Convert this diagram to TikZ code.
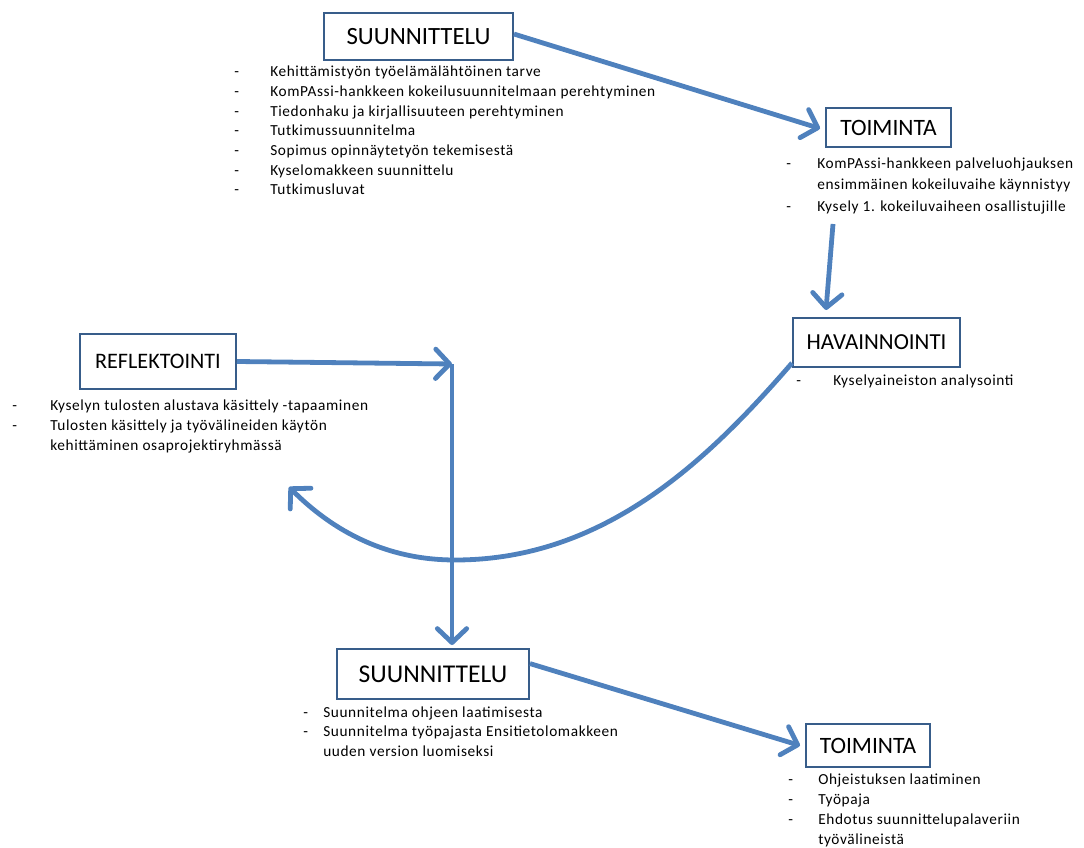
\documentclass[tikz,border=0pt]{standalone}
\usepackage{fontspec}
\setmainfont{Carlito}
\newfontfamily\itemfont[LetterSpace=4]{Carlito}
\usetikzlibrary{arrows.meta,calc}
\definecolor{arrowblue}{HTML}{4F81BD}
\definecolor{boxblue}{HTML}{385D8A}
\begin{document}
\begin{tikzpicture}[x=0.75pt,y=-0.75pt,
  phase/.style={draw=boxblue,line width=1.5pt,fill=white,inner sep=0pt,align=center},
  item/.style={anchor=west,inner sep=0pt,font=\itemfont\fontsize{11.5}{13}\selectfont,text height=7.8pt,text depth=2.3pt},
  arr/.style={draw=arrowblue,line width=3.6pt,-{Straight Barb[length=10.5pt,width=22pt,round]}}]
\useasboundingbox (0,0) rectangle (1084,848);
% phase boxes
\node[phase,minimum width=141.75pt,minimum height=35.25pt,font=\fontsize{18.6}{20}\selectfont] (s1) at (418.5,36.5) {SUUNNITTELU};
\node[phase,minimum width=93.75pt,minimum height=29.25pt,font=\fontsize{17.6}{19}\selectfont] (t1) at (888.5,127.5) {TOIMINTA};
\node[phase,minimum width=125.25pt,minimum height=36.75pt,font=\fontsize{17.2}{18}\selectfont] (h) at (876.5,342.5) {HAVAINNOINTI};
\node[phase,minimum width=117pt,minimum height=41.25pt,font=\fontsize{16.6}{18}\selectfont] (r) at (158,361.5) {REFLEKTOINTI};
\node[phase,minimum width=144pt,minimum height=37.5pt,font=\fontsize{19.2}{20}\selectfont] (s2) at (433,674) {SUUNNITTELU};
\node[phase,minimum width=93pt,minimum height=32.25pt,font=\fontsize{17.6}{19}\selectfont] (t2) at (868,745.5) {TOIMINTA};
% list: suunnittelu 1
\foreach \t [count=\i] in {Kehittämistyön työelämälähtöinen tarve,KomPAssi-hankkeen kokeilusuunnitelmaan perehtyminen,Tiedonhaku ja kirjallisuuteen perehtyminen,Tutkimussuunnitelma,Sopimus opinnäytetyön tekemisestä,Kyselomakkeen suunnittelu,Tutkimusluvat}{
  \node[item] (s1d\i) at (234,{73+(\i-1)*19.7}) {-};
  \node[item] (s1l\i) at (270,{73+(\i-1)*19.7}) {\t};
}
% list: toiminta 1
\node[item] (t1d1) at (786,165) {-};
\node[item] (t1l1) at (817,165) {KomPAssi-hankkeen palveluohjauksen};
\node[item] (t1l1b) at (817,186) {ensimmäinen kokeiluvaihe käynnistyy};
\node[item] (t1d2) at (786,208) {-};
\node[item] (t1l2) at (817,208) {Kysely 1. kokeiluvaiheen osallistujille};
% list: havainnointi
\node[item] (hd1) at (796,382) {-};
\node[item] (hl1) at (833,382) {Kyselyaineiston analysointi};
% list: reflektointi
\node[item] (rd1) at (12,407) {-};
\node[item] (rl1) at (50,407) {Kyselyn tulosten alustava käsittely -tapaaminen};
\node[item] (rd2) at (12,427) {-};
\node[item] (rl2) at (50,427) {Tulosten käsittely ja työvälineiden käytön};
\node[item] (rl2b) at (50,447) {kehittäminen osaprojektiryhmässä};
% list: suunnittelu 2
\node[item] (s2d1) at (303,714) {-};
\node[item] (s2l1) at (323,714) {Suunnitelma ohjeen laatimisesta};
\node[item] (s2d2) at (303,733) {-};
\node[item] (s2l2) at (323,733) {Suunnitelma työpajasta Ensitietolomakkeen};
\node[item] (s2l2b) at (323,753) {uuden version luomiseksi};
% list: toiminta 2
\node[item] (t2d1) at (788,781) {-};
\node[item] (t2l1) at (818,781) {Ohjeistuksen laatiminen};
\node[item] (t2d2) at (788,801) {-};
\node[item] (t2l2) at (818,801) {Työpaja};
\node[item] (t2d3) at (788,821) {-};
\node[item] (t2l3) at (818,821) {Ehdotus suunnittelupalaveriin};
\node[item] (t2l3b) at (818,841) {työvälineistä};
% free ends
\coordinate (a2s) at (833,224);
\coordinate (a2e) at (826,310);
\coordinate (a3m) at (455,560);
\coordinate (a3e) at (289,487);
\coordinate (j) at (452,364);
% connectors
\draw[arr] ($(s1.north east)!0.45!(s1.south east)$) -- ($(t1.west)+(-5,1)$);
\draw[arr] (a2s) -- (a2e);
\draw[arr] ($(h.south west)+(0,-5)$) .. controls (708,460) and (605,560) .. (a3m)
  .. controls (395,560) and (340,538) .. (a3e);
\draw[arr] (r.east) -- (j);
\draw[arr] (j) -- ($(j |- s2.north)+(0,-3)$);
\draw[arr] ($(s2.north east)!0.3!(s2.south east)$) -- ($(t2.west)+(-5,0)$);
\end{tikzpicture}
\end{document}
